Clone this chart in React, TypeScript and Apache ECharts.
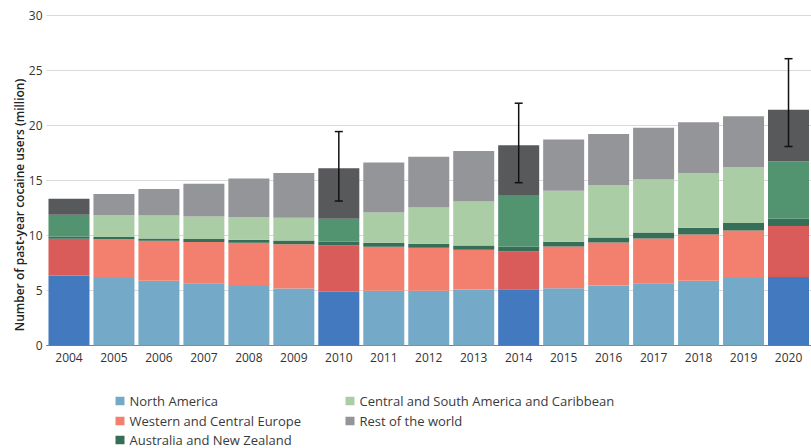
import React, { useEffect, useRef } from "react";
import * as echarts from "echarts";

const years = ["2004","2005","2006","2007","2008","2009","2010","2011","2012","2013","2014","2015","2016","2017","2018","2019","2020"];
const northAmerica = [6.36, 6.15, 5.88, 5.67, 5.42, 5.18, 4.88, 4.97, 4.97, 5.09, 5.12, 5.21, 5.45, 5.67, 5.88, 6.13, 6.24];
const westernCentralEurope = [3.35, 3.53, 3.65, 3.74, 3.92, 4.04, 4.22, 4.01, 3.92, 3.61, 3.43, 3.8, 3.92, 4.07, 4.22, 4.34, 4.63];
const australiaNZ = [0.21, 0.18, 0.21, 0.27, 0.28, 0.33, 0.33, 0.36, 0.36, 0.4, 0.46, 0.42, 0.46, 0.54, 0.61, 0.67, 0.66];
const centralSouthAmerica = [1.98, 2.01, 2.09, 2.06, 2.07, 2.07, 2.1, 2.76, 3.31, 4.0, 4.62, 4.65, 4.77, 4.83, 4.95, 5.1, 5.2];
const restOfWorld = [1.45, 1.91, 2.41, 2.98, 3.51, 4.08, 4.59, 4.54, 4.62, 4.6, 4.58, 4.65, 4.65, 4.69, 4.65, 4.62, 4.71];
const highlightedYears = ["2004", "2010", "2014", "2020"];
const errorYears = ["2010", "2014", "2020"];
const errorLow = [13.14, 14.81, 18.1];
const errorHigh = [19.46, 22.04, 26.09];
const yTicks = [0, 5, 10, 15, 20, 25, 30];

const FONT = "'Open Sans', 'Noto Sans', sans-serif";

const seriesDefs = [
  { name: "North America", data: northAmerica, light: "#74aac8", dark: "#4379be" },
  { name: "Western and Central Europe", data: westernCentralEurope, light: "#f3806e", dark: "#d95b5a" },
  { name: "Australia and New Zealand", data: australiaNZ, light: "#366e57", dark: "#366e57" },
  { name: "Central and South America and Caribbean", data: centralSouthAmerica, light: "#abcda6", dark: "#51946f" },
  { name: "Rest of the world", data: restOfWorld, light: "#939598", dark: "#58595b" },
];

// legend placement: [left, rowCenterY]
const legendSpots = [
  [115.5, 401],
  [115.5, 421],
  [115.5, 440],
  [345.5, 401],
  [345.5, 421],
];

export default function App() {
  const ref = useRef<HTMLDivElement>(null);
  useEffect(() => {
    if (!ref.current) return;
    const chart = echarts.init(ref.current, null, { renderer: "svg" });
    const barSeries = seriesDefs.map((s) => ({
      name: s.name,
      type: "bar",
      stack: "total",
      barWidth: 41,
      itemStyle: { color: s.light },
      emphasis: { disabled: true },
      data: s.data.map((v, i) =>
        highlightedYears.includes(years[i]) ? { value: v, itemStyle: { color: s.dark } } : v
      ),
    }));
    const errData = errorYears.map((y, i) => [years.indexOf(y), errorLow[i], errorHigh[i]]);
    chart.setOption({
      animation: false,
      textStyle: { fontFamily: FONT },
      grid: { left: 46.5, right: -11, top: 15.7, bottom: 102.5 },
      xAxis: {
        type: "category",
        data: years,
        axisLine: { lineStyle: { color: "#7f7f7f", width: 1 } },
        axisTick: { show: false },
        axisLabel: { color: "#333", fontSize: 12, fontFamily: FONT, margin: 6, interval: 0 },
      },
      yAxis: {
        type: "value",
        min: yTicks[0],
        max: yTicks[yTicks.length - 1],
        interval: 5,
        axisLine: { show: false },
        axisTick: { show: false },
        axisLabel: { color: "#333", fontSize: 12, fontFamily: FONT, margin: 4 },
        splitLine: { lineStyle: { color: "#d9d9d9", width: 1 } },
      },
      legend: seriesDefs.map((s, i) => ({
        data: [s.name],
        orient: "horizontal",
        left: legendSpots[i][0],
        top: legendSpots[i][1] - 8,
        padding: 0,
        itemWidth: 9,
        itemHeight: 8.5,
        icon: "rect",
        selectedMode: false,
        textStyle: { color: "#3a3a3a", fontSize: 13, fontFamily: FONT, lineHeight: 16 },
      })),
      graphic: [
        {
          type: "text",
          x: 19,
          y: 205,
          rotation: Math.PI / 2,
          style: {
            text: "Number of past-year cocaine users (million)",
            font: `600 12px ${FONT}`,
            fill: "#222",
            align: "center",
            verticalAlign: "middle",
          },
        },
      ],
      series: [
        ...barSeries,
        {
          type: "custom",
          name: "error",
          z: 10,
          encode: { x: 0, y: [1, 2] },
          data: errData,
          renderItem: (params: any, api: any) => {
            const xi = api.value(0);
            const lo = api.coord([xi, api.value(1)]);
            const hi = api.coord([xi, api.value(2)]);
            const hw = 4;
            const style = { stroke: "#111", lineWidth: 1.5 };
            return {
              type: "group",
              children: [
                { type: "line", shape: { x1: lo[0], y1: lo[1], x2: hi[0], y2: hi[1] }, style },
                { type: "line", shape: { x1: lo[0] - hw, y1: lo[1], x2: lo[0] + hw, y2: lo[1] }, style },
                { type: "line", shape: { x1: hi[0] - hw, y1: hi[1], x2: hi[0] + hw, y2: hi[1] }, style },
              ],
            };
          },
        },
      ],
    });
    return () => chart.dispose();
  }, []);
  return <div ref={ref} style={{ position: "absolute", left: 0, top: 0, width: 811, height: 448 }} />;
}
